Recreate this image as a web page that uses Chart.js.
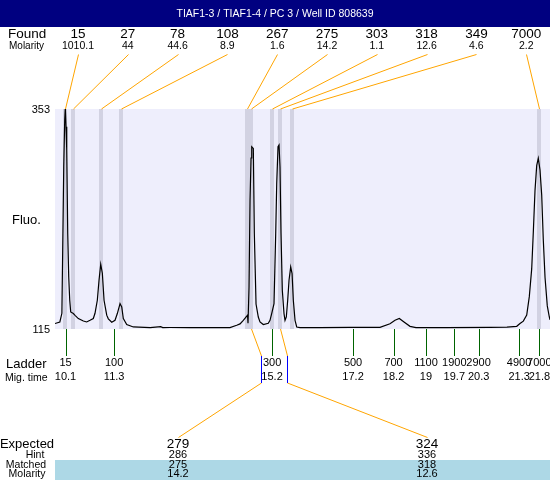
<!DOCTYPE html>
<html><head><meta charset="utf-8">
<script src="https://cdn.jsdelivr.net/npm/chart.js@4/dist/chart.umd.min.js"></script>
<style>html,body{margin:0;padding:0;background:#fff;}#wrap{width:550px;height:480px;}</style>
</head><body><div id="wrap"><canvas id="c" width="550" height="480"></canvas></div>
<script>
const chartTitle = "TIAF1-3 / TIAF1-4 / PC 3 / Well ID 808639";
const traceTimes = [9.84,9.96,10.01,10.03,10.056,10.08,10.095,10.112,10.13,10.154,10.179,10.204,10.228,10.293,10.335,10.416,10.54,10.623,10.705,10.786,10.828,10.885,10.927,10.969,11.009,11.051,11.117,11.157,11.241,11.322,11.379,11.446,11.488,11.527,11.611,11.774,12.19,12.45,12.5,12.68,13.17,13.67,14.16,14.327,14.409,14.49,14.574,14.594,14.606,14.631,14.656,14.681,14.698,14.737,14.762,14.804,14.86,14.902,14.984,15.107,15.149,15.191,15.248,15.29,15.315,15.347,15.372,15.396,15.421,15.453,15.495,15.52,15.552,15.586,15.619,15.66,15.694,15.725,15.767,15.809,15.89,16.38,17.12,17.865,18.112,18.236,18.342,18.458,18.606,18.754,19.5,20.58,21.0,21.241,21.322,21.404,21.488,21.552,21.611,21.651,21.693,21.735,21.774,21.816,21.858,21.898,21.94,21.996,22.046,22.063];
const traceFluo = [120.9,122.6,132,200.3,290.5,341.1,355,333.8,308.6,218.7,171.3,146.1,133.4,131.7,129.8,126.3,123.7,122.6,124.4,126.3,132,146.1,167.8,185.1,175.3,146.1,130,126,122.3,124.4,131.7,142.5,138.8,126.3,119.8,117.2,116.5,117.5,116.5,116.6,116.5,116.5,116.5,119,120.5,124.4,128.8,130,121.2,160,254.4,300,312.2,310.4,218.7,142,128,122.6,119.8,121.2,124.4,131.7,142.5,218.3,272.5,312.2,314,290.5,218.3,156.9,131.7,124.4,128,146.1,167.8,182.2,175,146.1,124.4,117.2,116.5,116.5,116.8,116.8,120.6,124.4,126.3,122.6,117.9,116.5,116.5,116.8,117,117.9,120.9,123.5,130,150,180,220,265,292,299.6,287,260,211,171,140,128,125];
const foundSizes = ["15","27","78","108","267","275","303","318","349","7000"];
const foundMolarity = ["1010.1","44","44.6","8.9","1.6","14.2","1.1","12.6","4.6","2.2"];
const foundTimes = [10.09,10.29,10.98,11.47,14.58,14.68,15.2,15.4,15.69,21.79];
const ladderSizes = ["15","100","300","500","700","1100","1900","2900","4900","7000"];
const ladderTimes = [10.1,11.3,15.2,17.2,18.2,19,19.7,20.3,21.3,21.8];
const ladderTimeLabels = ["10.1","11.3","15.2","17.2","18.2","19","19.7","20.3","21.3","21.8"];
const expectedSizes = ["279","324"];
const hintSizes = ["286","336"];
const matchedSizes = ["275","318"];
const matchedMolarity = ["14.2","12.6"];
const matchedTimes = [14.68,15.4];
const hintMarkTimes = [14.92,15.56];
const yTickValues = [115,353];

const FONT = "'Liberation Sans', Arial, sans-serif";
const ORANGE = "#FFA500";
const h = v => Math.round(v) + 0.5;

const deco = {
  id: 'deco',
  beforeDatasetsDraw(chart) {
    const {ctx, chartArea: a, scales: {x}} = chart;
    ctx.save();
    ctx.fillStyle = '#EEEEFC';
    ctx.fillRect(a.left, a.top, a.right - a.left, a.bottom - a.top);
    ctx.fillStyle = '#D2D2E2';
    foundTimes.forEach(t => {
      const px = Math.round(x.getPixelForValue(t));
      ctx.fillRect(px - 2, a.top, 4, a.bottom - a.top);
    });
    ctx.restore();
  },
  afterDraw(chart) {
    const {ctx, chartArea: a, scales: {x, y}} = chart;
    ctx.save();
    ctx.fillStyle = '#000080';
    ctx.fillRect(0, 0, 550, 27);
    ctx.fillStyle = '#fff';
    ctx.font = '10.5px ' + FONT;
    ctx.textAlign = 'center';
    ctx.textBaseline = 'middle';
    ctx.fillText(chartTitle, 275, 14);

    ctx.fillStyle = '#000';
    ctx.textAlign = 'left';
    ctx.font = '13.5px ' + FONT;
    ctx.fillText('Found', 8, 34);
    ctx.font = '10px ' + FONT;
    ctx.fillText('Molarity', 9, 46);
    ctx.textAlign = 'center';
    ctx.lineWidth = 1;
    foundSizes.forEach((s, i) => {
      const lx = 78 + 49.8 * i;
      ctx.fillStyle = '#000';
      ctx.font = '13.5px ' + FONT;
      ctx.fillText(s, lx, 34);
      ctx.font = '10.5px ' + FONT;
      ctx.fillText(foundMolarity[i], lx, 46);
      ctx.strokeStyle = ORANGE;
      ctx.beginPath();
      ctx.moveTo(h(lx), 54.5);
      ctx.lineTo(h(x.getPixelForValue(foundTimes[i])), a.top);
      ctx.stroke();
    });

    ctx.fillStyle = '#000';
    ctx.font = '11px ' + FONT;
    ctx.textAlign = 'right';
    yTickValues.forEach(v => {
      ctx.fillText(String(v), 50, y.getPixelForValue(v) + 1);
    });
    ctx.textAlign = 'left';
    ctx.font = '13px ' + FONT;
    ctx.fillText('Fluo.', 12, 220);

    ctx.strokeStyle = '#006400';
    ladderTimes.forEach(t => {
      const px = h(x.getPixelForValue(t));
      ctx.beginPath();
      ctx.moveTo(px, a.bottom);
      ctx.lineTo(px, 356);
      ctx.stroke();
    });
    ctx.fillStyle = '#000';
    ctx.font = '13px ' + FONT;
    ctx.textAlign = 'left';
    ctx.fillText('Ladder', 6, 364);
    ctx.font = '10.5px ' + FONT;
    ctx.fillText('Mig. time', 5, 378);
    ctx.textAlign = 'center';
    ctx.font = '11px ' + FONT;
    ladderSizes.forEach((s, i) => {
      const px = x.getPixelForValue(ladderTimes[i]);
      ctx.fillText(s, px, 363);
      ctx.fillText(ladderTimeLabels[i], px, 377);
    });

    const expX = [178, 427];
    matchedTimes.forEach((t, i) => {
      const pk = h(x.getPixelForValue(t));
      const mk = h(x.getPixelForValue(hintMarkTimes[i]));
      ctx.strokeStyle = ORANGE;
      ctx.beginPath();
      ctx.moveTo(pk, a.bottom);
      ctx.lineTo(mk, 356);
      ctx.moveTo(mk, 383);
      ctx.lineTo(expX[i] + 0.5, 437.5);
      ctx.stroke();
      ctx.strokeStyle = '#0000FF';
      ctx.beginPath();
      ctx.moveTo(mk, 356);
      ctx.lineTo(mk, 383);
      ctx.stroke();
    });

    ctx.fillStyle = '#ADD8E6';
    ctx.fillRect(a.left, 460, a.right - a.left, 20);
    ctx.fillStyle = '#000';
    ctx.textAlign = 'center';
    ctx.font = '13px ' + FONT;
    ctx.fillText('Expected', 27, 444);
    ctx.font = '10.5px ' + FONT;
    ctx.fillText('Hint', 35, 455);
    ctx.fillText('Matched', 26, 465);
    ctx.fillText('Molarity', 27, 474);
    expectedSizes.forEach((s, i) => {
      ctx.font = '13.5px ' + FONT;
      ctx.fillText(s, expX[i], 444);
      ctx.font = '11px ' + FONT;
      ctx.fillText(hintSizes[i], expX[i], 455);
      ctx.fillText(matchedSizes[i], expX[i], 465);
      ctx.fillText(matchedMolarity[i], expX[i], 474);
    });
    ctx.restore();
  }
};

new Chart(document.getElementById('c'), {
  type: 'line',
  data: {
    datasets: [{
      data: traceTimes.map((t, i) => ({x: t, y: traceFluo[i]})),
      borderColor: '#000',
      borderWidth: 1.2,
      pointRadius: 0,
      tension: 0,
      fill: false
    }]
  },
  options: {
    responsive: false,
    animation: false,
    devicePixelRatio: 1,
    layout: {padding: {left: 55, right: 0, top: 109, bottom: 151}},
    scales: {
      x: {type: 'linear', min: 9.84, max: 22.063, display: false},
      y: {min: 115, max: 353, display: false}
    },
    plugins: {legend: {display: false}, tooltip: {enabled: false}}
  },
  plugins: [deco]
});
</script>
</body></html>
